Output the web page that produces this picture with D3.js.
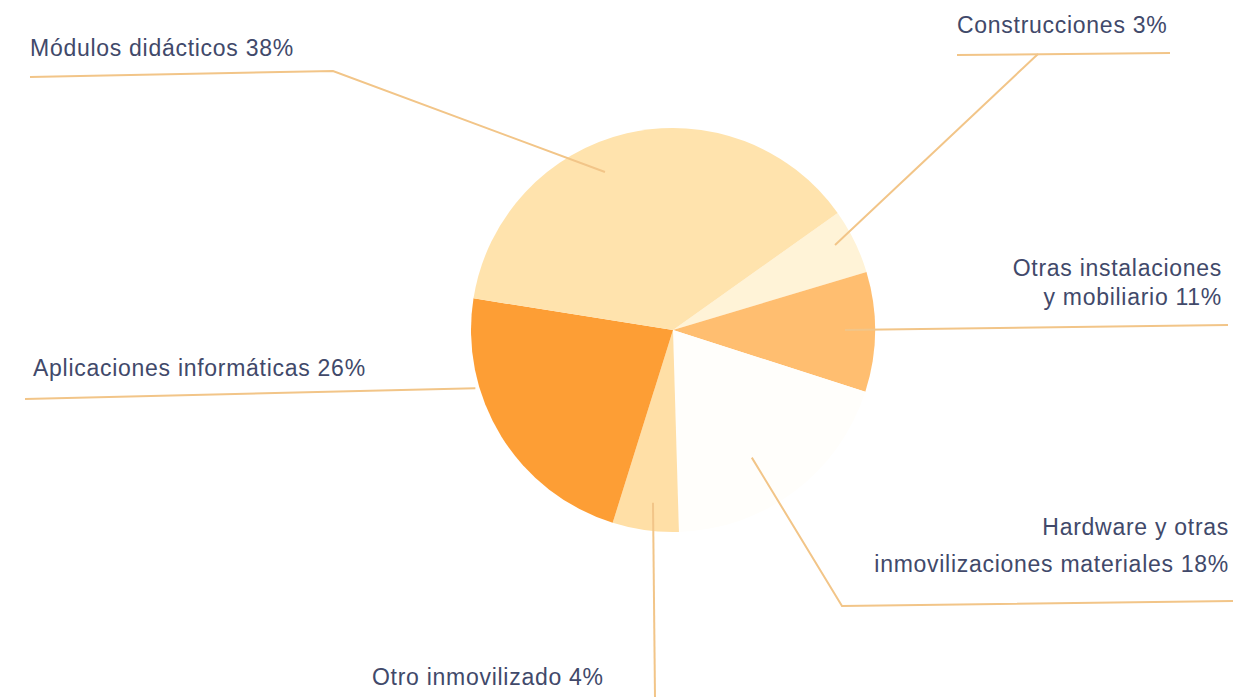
<!DOCTYPE html>
<html>
<head>
<meta charset="utf-8">
<script src="https://cdn.jsdelivr.net/npm/d3@7"></script>
<style>
  html, body { margin: 0; padding: 0; background: #ffffff; }
  svg { display: block; }
  .label { font-family: "Liberation Sans", Arial, sans-serif; font-size: 23px; letter-spacing: 0.72px; fill: #41496a; }
</style>
</head>
<body>
<svg id="chart" width="1245" height="697"></svg>
<script>
// slices in drawing order, clockwise from the Construcciones edge
const categories = ['Construcciones', 'Otras instalaciones y mobiliario', 'Hardware y otras inmovilizaciones materiales', 'Otro inmovilizado', 'Aplicaciones informáticas', 'Módulos didácticos'];
// share of the circle as drawn
const drawnShare = [5.2, 9.6, 19.6, 5.3, 22.7, 37.7];
// percentage printed in each label
const labelPct = [3, 11, 18, 4, 26, 38];
const labelLines = [
    ['Construcciones 3%'],
    ['Otras instalaciones', 'y mobiliario 11%'],
    ['Hardware y otras', 'inmovilizaciones materiales 18%'],
    ['Otro inmovilizado 4%'],
    ['Aplicaciones informáticas 26%'],
    ['Módulos didácticos 38%']
];
const sliceColors = ['#fff3d7', '#ffbe70', '#fffefb', '#ffdfa6', '#fd9e35', '#ffe3ad'];

const CX = 673, CY = 330, R = 202;
const START = 54.6 * Math.PI / 180;
const LINE_COLOR = '#f2c588';

// label / leader layout (annotation only)
const layout = [
    { anchor: [62.3, 183], path: [[1038, 54]], under: [[957, 55], [1170, 53]], x: 957, y: [33], align: 'start' },
    { anchor: [90, 172], path: [[1228, 325]], x: 1222, y: [276, 305], align: 'end' },
    { anchor: [148.3, 150], path: [[842, 606], [1233, 601]], x: 1229, y: [535, 572], align: 'end' },
    { anchor: [186.6, 174], path: [[655, 697]], x: 372, y: [685], align: 'start' },
    { anchor: [253.6, 206], path: [[25, 399]], x: 33, y: [376], align: 'start' },
    { anchor: [336.7, 172], path: [[333, 71], [30, 77]], x: 30, y: [56], align: 'start' }
];

const svg = d3.select('#chart');

const pie = d3.pie().sort(null).value(d => d).startAngle(START).endAngle(START + 2 * Math.PI);
const arc = d3.arc().innerRadius(0).outerRadius(R);
const arcs = pie(drawnShare);

svg.append('g')
    .attr('transform', `translate(${CX},${CY})`)
    .selectAll('path')
    .data(arcs)
    .join('path')
    .attr('d', arc)
    .attr('fill', (d, i) => sliceColors[i]);

// leader lines
const line = d3.line();
const leaders = svg.append('g').attr('fill', 'none').attr('stroke', LINE_COLOR).attr('stroke-width', 2);
layout.forEach((l, i) => {
    const p = d3.pointRadial(l.anchor[0] * Math.PI / 180, l.anchor[1]);
    const pts = [[CX + p[0], CY + p[1]], ...l.path];
    leaders.append('path').attr('d', line(pts));
    if (l.under) leaders.append('path').attr('d', line(l.under));
});

// labels
const labels = svg.append('g');
layout.forEach((l, i) => {
    labelLines[i].forEach((t, j) => {
        labels.append('text')
            .attr('class', 'label')
            .attr('x', l.x)
            .attr('y', l.y[j])
            .attr('text-anchor', l.align)
            .text(t);
    });
});
</script>
</body>
</html>
